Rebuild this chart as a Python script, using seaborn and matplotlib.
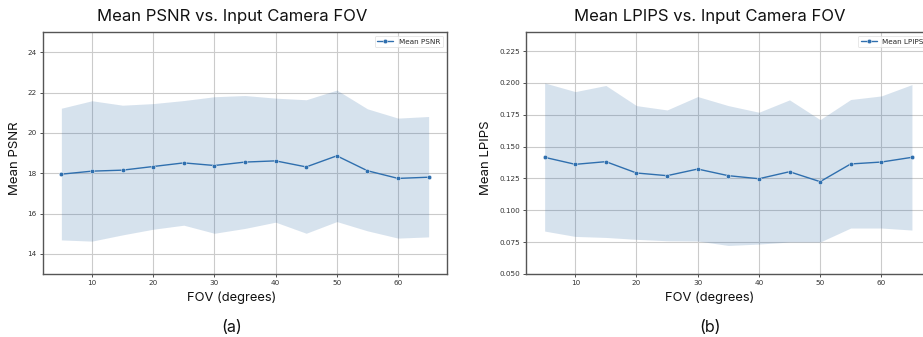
import numpy as np
import pandas as pd
import matplotlib
matplotlib.use("Agg")
import matplotlib.pyplot as plt
import seaborn as sns

# ---- data ----
fov = [5, 10, 15, 20, 25, 30, 35, 40, 45, 50, 55, 60, 65]
psnr_mean = [17.95, 18.10, 18.15, 18.33, 18.51, 18.38, 18.55, 18.61, 18.31, 18.86, 18.12, 17.74, 17.80]
psnr_upper = [21.22, 21.59, 21.37, 21.45, 21.60, 21.79, 21.85, 21.72, 21.64, 22.12, 21.19, 20.73, 20.81]
psnr_lower = [14.69, 14.63, 14.94, 15.22, 15.42, 15.02, 15.26, 15.57, 15.02, 15.60, 15.14, 14.78, 14.84]
lpips_mean = [0.1416, 0.1361, 0.1382, 0.1293, 0.1272, 0.1324, 0.1272, 0.1248, 0.1303, 0.1225, 0.1364, 0.1379, 0.1416]
lpips_upper = [0.2000, 0.1932, 0.1980, 0.1822, 0.1788, 0.1893, 0.1822, 0.1770, 0.1867, 0.1712, 0.1870, 0.1898, 0.1987]
lpips_lower = [0.0837, 0.0795, 0.0787, 0.0772, 0.0761, 0.0759, 0.0724, 0.0735, 0.0751, 0.0751, 0.0861, 0.0861, 0.0845]
psnr_yticks = [14, 16, 18, 20, 22, 24]
lpips_yticks = [0.050, 0.075, 0.100, 0.125, 0.150, 0.175, 0.200, 0.225]
x_ticks = [10, 20, 30, 40, 50, 60]

sns.set_style("white")
plt.rcParams['font.family'] = ['DejaVu Sans']

W, H = 923, 337
fig = plt.figure(figsize=(W / 100, H / 100), dpi=100)

color = "#2f6fae"
fill_color = "#1f5f9f"
label_font = ['Inter', 'DejaVu Sans']

def panel(left_px, mean, lower, upper, label, ylim, yticks, yfmt, title, title_x, ylabel_x, letter):
    ax = fig.add_axes([left_px / W, 63 / H, 404 / W, 242 / H])
    df = pd.DataFrame({"FOV": fov, "val": mean})
    ax.fill_between(fov, lower, upper, color=fill_color, alpha=0.18, linewidth=0, zorder=1)
    sns.lineplot(data=df, x="FOV", y="val", ax=ax, color=color, marker="o",
                 markersize=3.2, markeredgewidth=0.3, markeredgecolor="white",
                 linewidth=1.0, label=label, zorder=3)
    ax.set_xlim(2, 68)
    ax.set_ylim(*ylim)
    ax.set_xticks(x_ticks)
    ax.set_yticks(yticks)
    ax.set_yticklabels([yfmt.format(v) for v in yticks])
    ax.grid(True, color="#cbcbcb", linewidth=0.8, zorder=0)
    ax.set_axisbelow(True)
    for s in ax.spines.values():
        s.set_color("#555555")
        s.set_linewidth(1.0)
    ax.tick_params(axis="both", labelsize=5.2, colors="#333333", length=2.5, width=0.6,
                   pad=2, bottom=True, left=True)
    ax.set_xlabel("")
    ax.set_ylabel("")
    leg = ax.legend(loc="upper right", fontsize=5.2, frameon=True, handlelength=2.2,
                    borderpad=0.4, handletextpad=0.8)
    leg.get_frame().set_edgecolor("#dddddd")
    leg.get_frame().set_linewidth(0.6)
    fig.text(title_x / W, 1 - 16 / H, title, ha="center", va="center", fontsize=12,
             family=label_font, color="#111111")
    fig.text(title_x / W, 1 - 298 / H, "FOV (degrees)", ha="center", va="center",
             fontsize=9.3, family=label_font, color="#111111")
    fig.text(ylabel_x / W, 1 - 158 / H, label, ha="center", va="center", rotation=90,
             fontsize=9.5, family=label_font, color="#111111")
    fig.text(title_x / W, 1 - 327 / H, letter, ha="center", va="center", fontsize=11.5,
             family=label_font, color="#111111")
    return ax

panel(43, psnr_mean, psnr_lower, psnr_upper, "Mean PSNR", (13, 25), psnr_yticks, "{:g}",
      "Mean PSNR vs. Input Camera FOV", 232, 15, "(a)")
panel(526.3, lpips_mean, lpips_lower, lpips_upper, "Mean LPIPS", (0.05, 0.24), lpips_yticks, "{:.3f}",
      "Mean LPIPS vs. Input Camera FOV", 710, 486, "(b)")

fig.savefig("out.png", dpi=100)
